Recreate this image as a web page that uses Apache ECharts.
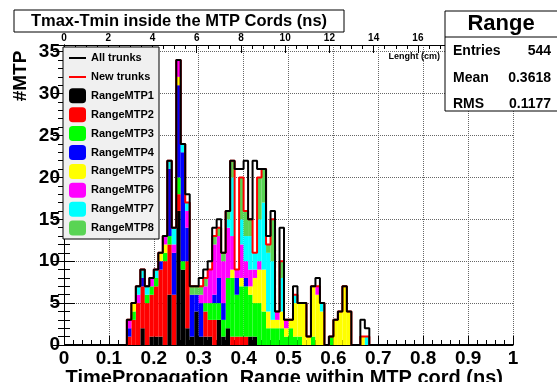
<!DOCTYPE html>
<html lang="en">
<head>
  <meta charset="UTF-8">
  <title>Range</title>
  <script src="https://cdn.jsdelivr.net/npm/echarts@6/dist/echarts.min.js"></script>
  <style>
    html, body { margin: 0; padding: 0; background: #fff; }
  </style>
</head>
<body>
  <div id="main" style="width:557px;height:382px"></div>
  <script>
    // histogram: 100 bins of 0.01 ns, values below start at bin 14 (0.14 ns)
    var nBins = 100
    var firstBin = 14
    var allTrunks = [3,5,7,9,7,8,9,11,13, 22,14,34,24,18, 7,7,8,9,10,14,15,
                     11,16,22,21,21,22,15,22,21,21, 13,16,4,14, 3,3,7,5,5,1,7,8,5,
                     0,1,3,4,7,4,0,0,3,2]
    var mtpNames = ['RangeMTP1','RangeMTP2','RangeMTP3','RangeMTP4',
                    'RangeMTP5','RangeMTP6','RangeMTP7','RangeMTP8']
    var mtpColors = ['#000000','#ff0000','#00ff00','#0000ff',
                     '#ffff00','#ff00ff','#00ffff','#59d454']
    var mtp1 = [0,0,0,2,0,1,1,1,0, 6,0,16,9,2, 1,4,1,1,1,0,3, 1,2,0,0,0,0,1,1,0,0, 0,0,0,0, 0,0,0,0,0,0,0,0,0, 0,0,0,0,0,0,0,0,0,0]
    var mtp2 = [1,3,5,5,5,5,6,8,10, 6,6,2,0,8, 0,0,0,3,2,3,0, 0,0,1,1,1,1,0,0,0,0, 0,0,0,0, 0,0,0,0,0,0,0,0,0, 0,0,0,0,0,0,0,0,0,0]
    var mtp3 = [0,1,0,0,1,1,1,0,1, 1,0,2,1,0, 0,0,0,1,2,2,2, 2,6,7,5,6,6,5,4,5,4, 2,2,2,2, 1,2,1,1,0,0,1,0,0, 0,1,0,0,0,0,0,0,0,0]
    var mtp4 = [1,0,0,1,0,0,0,1,0, 8,5,11,13,4, 5,2,4,0,0,1,3, 2,0,0,2,0,1,0,0,0,0, 0,0,0,0, 0,0,0,0,0,0,0,0,0, 0,0,0,0,0,0,0,0,0,0]
    var mtp5 = [0,1,0,0,0,0,0,1,1, 0,0,1,0,0, 0,0,0,0,0,0,0, 0,0,1,0,1,0,1,3,4,5, 2,1,1,2, 1,1,4,4,5,1,6,6,4, 0,0,3,4,7,4,0,0,1,0]
    var mtp6 = [1,0,1,0,0,1,0,0,1, 0,1,2,0,2, 0,0,1,2,4,6,5, 5,6,4,1,4,2,2,1,1,0, 0,0,1,0, 1,0,0,0,0,0,0,1,0, 0,0,0,0,0,0,0,0,0,0]
    var mtp7 = [0,0,1,1,1,0,1,0,0, 1,2,0,1,1, 0,0,0,0,0,0,0, 0,1,7,0,3,3,4,2,5,8, 7,7,0,4, 0,0,1,0,0,0,0,0,1, 0,0,0,0,0,0,0,0,0,1]
    var mtp8 = [0,0,0,0,0,0,0,0,0, 0,0,0,0,0, 1,1,1,1,0,1,1, 1,1,2,0,5,3,2,0,5,4, 1,5,0,2, 0,0,0,0,0,0,0,0,0, 0,0,0,0,0,0,0,0,0,0]
    var mtpData = [mtp1, mtp2, mtp3, mtp4, mtp5, mtp6, mtp7, mtp8]

    var statsLabels = ['Entries', 'Mean', 'RMS']
    var statsValues = ['544', '0.3618', '0.1177']

    var font = '"Liberation Sans", Arial, sans-serif'
    // legend icon for the two outlines: a 2px line in a 17x15 box
    var lineIcon = 'path://M0,0L0.01,0L0,0.01Z M0,6.5L17,6.5L17,8.5L0,8.5Z M17,15L16.99,15L17,14.99Z'

    // put the short arrays into the full 100 bins
    function fullBins(arr) {
      var out = []
      for (var i = 0; i < nBins; i++) {
        var v = arr[i - firstBin]
        out.push(v === undefined ? 0 : v)
      }
      return out
    }

    // stack sum = New trunks
    var newTrunks = []
    for (var j = 0; j < allTrunks.length; j++) {
      var s = 0
      for (var k = 0; k < mtpData.length; k++) s += mtpData[k][j]
      newTrunks.push(s)
    }

    // outline points at the bin edges for a step line
    function stepData(arr) {
      var full = fullBins(arr)
      var pts = []
      for (var i = 0; i < nBins; i++) pts.push([i / nBins, full[i]])
      pts.push([1, full[nBins - 1]])
      return pts
    }

    var binLabels = []
    for (var i = 0; i < nBins; i++) binLabels.push(String(i))

    var series = []
    for (var m = 0; m < mtpData.length; m++) {
      series.push({
        name: mtpNames[m],
        type: 'bar',
        stack: 'mtp',
        xAxisIndex: 0,
        yAxisIndex: 0,
        barCategoryGap: '0%',
        data: fullBins(mtpData[m]).map(function (v) { return v === 0 ? '-' : v }),
        itemStyle: { color: mtpColors[m] },
        emphasis: { disabled: true },
        z: 2
      })
    }
    series.push({
      name: 'New trunks', type: 'line', step: 'end', xAxisIndex: 1, yAxisIndex: 0,
      data: stepData(newTrunks), symbol: 'none', z: 5,
      lineStyle: { color: '#ff0000', width: 2 }, itemStyle: { color: '#ff0000' }
    })
    series.push({
      name: 'All trunks', type: 'line', step: 'end', xAxisIndex: 1, yAxisIndex: 0,
      data: stepData(allTrunks), symbol: 'none', z: 6,
      lineStyle: { color: '#000000', width: 2 }, itemStyle: { color: '#000000' }
    })

    var myChart = echarts.init(document.getElementById('main'))

    var options = {
      animation: false,
      backgroundColor: '#ffffff',
      grid: { left: 64, right: 44, top: 45, bottom: 37 },
      xAxis: [
        { type: 'category', data: binLabels, show: false },
        {
          type: 'value', min: 0, max: 1, interval: 0.1, position: 'bottom',
          axisLine: { lineStyle: { color: '#000', width: 1 } },
          axisTick: { inside: true, length: 9, lineStyle: { color: '#000' } },
          minorTick: { show: true, splitNumber: 5, length: 5, lineStyle: { color: '#000' } },
          axisLabel: { fontSize: 19, fontWeight: 'bold', color: '#000', fontFamily: font, margin: 4 },
          splitLine: { show: true, lineStyle: { type: 'dotted', color: '#666' } }
        },
        {
          type: 'value', min: 0, max: 20.3, interval: 2, position: 'top',
          axisLine: { lineStyle: { color: '#000', width: 1 } },
          axisTick: { inside: true, length: 8, lineStyle: { color: '#000' } },
          minorTick: { show: true, splitNumber: 4, length: 4, lineStyle: { color: '#000' } },
          axisLabel: { fontSize: 10, fontWeight: 'bold', color: '#000', fontFamily: font, margin: 2, showMaxLabel: false },
          splitLine: { show: false }
        }
      ],
      yAxis: [
        {
          type: 'value', min: 0, max: 35.8, interval: 5,
          axisLine: { show: true, lineStyle: { color: '#000', width: 1 } },
          axisTick: { inside: true, length: 11, lineStyle: { color: '#000' } },
          minorTick: { show: true, splitNumber: 5, length: 6, lineStyle: { color: '#000' } },
          axisLabel: { fontSize: 19, fontWeight: 'bold', color: '#000', fontFamily: font, margin: 4, showMaxLabel: false },
          splitLine: { show: true, lineStyle: { type: 'dotted', color: '#666' } }
        },
        {
          type: 'value', min: 0, max: 35.8, interval: 5, position: 'right',
          axisLine: { show: true, lineStyle: { color: '#000', width: 1 } },
          axisTick: { inside: true, length: 11, lineStyle: { color: '#000' } },
          minorTick: { show: true, splitNumber: 5, length: 6, lineStyle: { color: '#000' } },
          axisLabel: { show: false },
          splitLine: { show: false }
        }
      ],
      legend: {
        orient: 'vertical', left: 63, top: 47, z: 10,
        itemWidth: 17, itemHeight: 15, itemGap: 3.9,
        padding: [3.5, 6, 3.5, 6],
        selectedMode: false,
        data: [{ name: 'All trunks', icon: lineIcon }, { name: 'New trunks', icon: lineIcon }].concat(mtpNames),
        textStyle: { fontSize: 11, fontWeight: 'bold', color: '#000', fontFamily: font }
      },
      graphic: [
        // legend frame
        { type: 'rect', z: 8, shape: { x: 63, y: 47, width: 96, height: 192 },
          style: { fill: '#f0f0f0', stroke: '#000', lineWidth: 1 } },
        // title box
        { type: 'rect', z: 8, shape: { x: 14, y: 10, width: 330, height: 22 },
          style: { fill: '#fff', stroke: '#000', lineWidth: 1 } },
        { type: 'text', z: 9, x: 179, y: 21,
          style: { text: 'Tmax-Tmin inside the MTP Cords (ns)', font: 'bold 16.5px ' + font,
                   fill: '#000', textAlign: 'center', textVerticalAlign: 'middle' } },
        // stats box
        { type: 'rect', z: 8, shape: { x: 445, y: 11, width: 120, height: 100 },
          style: { fill: '#fff', stroke: '#000', lineWidth: 1 } },
        { type: 'line', z: 9, shape: { x1: 445, y1: 37, x2: 557, y2: 37 },
          style: { stroke: '#000', lineWidth: 1 } },
        { type: 'text', z: 9, x: 501, y: 24,
          style: { text: 'Range', font: 'bold 22px ' + font, fill: '#000',
                   textAlign: 'center', textVerticalAlign: 'middle' } },
        { type: 'text', z: 9, x: 453, y: 51,
          style: { text: statsLabels[0], font: 'bold 14px ' + font, fill: '#000', textVerticalAlign: 'middle' } },
        { type: 'text', z: 9, x: 551, y: 51,
          style: { text: statsValues[0], font: 'bold 14px ' + font, fill: '#000', textAlign: 'right', textVerticalAlign: 'middle' } },
        { type: 'text', z: 9, x: 453, y: 78,
          style: { text: statsLabels[1], font: 'bold 14px ' + font, fill: '#000', textVerticalAlign: 'middle' } },
        { type: 'text', z: 9, x: 551, y: 78,
          style: { text: statsValues[1], font: 'bold 14px ' + font, fill: '#000', textAlign: 'right', textVerticalAlign: 'middle' } },
        { type: 'text', z: 9, x: 453, y: 104,
          style: { text: statsLabels[2], font: 'bold 14px ' + font, fill: '#000', textVerticalAlign: 'middle' } },
        { type: 'text', z: 9, x: 551, y: 104,
          style: { text: statsValues[2], font: 'bold 14px ' + font, fill: '#000', textAlign: 'right', textVerticalAlign: 'middle' } },
        // axis titles
        { type: 'text', z: 9, x: 440, y: 57,
          style: { text: 'Lenght (cm)', font: 'bold 9px ' + font, fill: '#000', textAlign: 'right', textVerticalAlign: 'middle' } },
        { type: 'text', z: 9, x: 21, y: 76, rotation: Math.PI / 2,
          style: { text: '#MTP', font: 'bold 19px ' + font, fill: '#000', textAlign: 'center', textVerticalAlign: 'middle' } },
        { type: 'text', z: 9, x: 503, y: 378,
          style: { text: 'TimePropagation_Range within MTP cord (ns)', font: 'bold 20px ' + font,
                   fill: '#000', textAlign: 'right', textVerticalAlign: 'middle' } }
      ],
      series: series
    }

    myChart.setOption(options)
  </script>
</body>
</html>
